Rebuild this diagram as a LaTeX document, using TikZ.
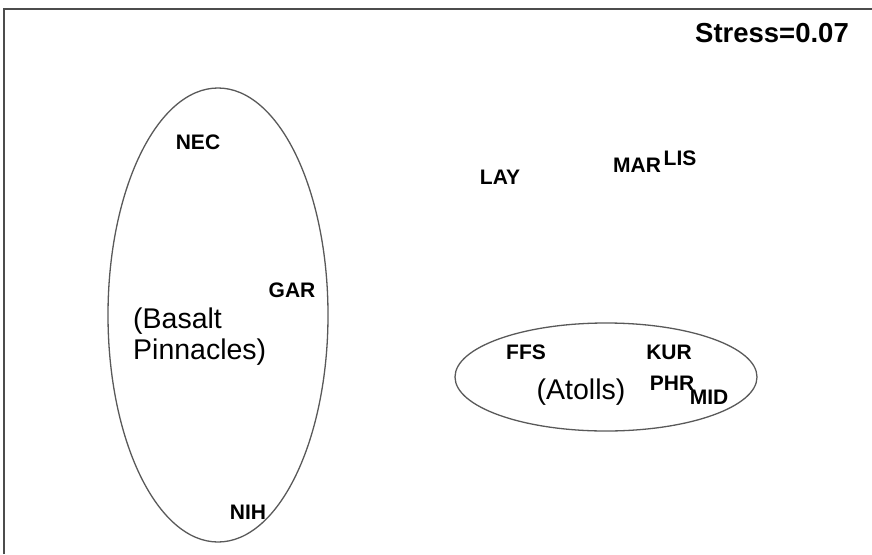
\documentclass[tikz,border=0pt]{standalone}
\usepackage{fontspec}
\setmainfont{Liberation Sans}
\usepackage{tikz}

\begin{document}
\begin{tikzpicture}[
	x=1pt, y=-1pt,
	site/.style = {inner sep=0pt, font=\fontsize{21}{24}\selectfont\bfseries},
	group/.style = {inner sep=0pt, align=left, font=\fontsize{28.5}{31}\selectfont},
	hull/.style = {draw=black!65, line width=1.3pt}
	]
	\useasboundingbox (0,0) rectangle (872,554);

	% frame
	\draw[black!70, line width=1.5pt] (4,554) -- (4,9) -- (872,9);
	\node[inner sep=0pt, font=\fontsize{27.5}{30}\selectfont\bfseries] (stress) at (772,33) {Stress=0.07};

	% basalt pinnacles
	\draw[hull] (218,315) ellipse (110 and 227);
	\node[site] (NEC) at (198,142) {NEC};
	\node[site] (GAR) at (292,290) {GAR};
	\node[site] (NIH) at (248,512) {NIH};
	\node[group, anchor=west] (basalt) at (133,337) {(Basalt\\Pinnacles)};

	% others
	\node[site] (LAY) at (500,177) {LAY};
	\node[site] (MAR) at (637,165) {MAR};
	\node[site] (LIS) at (680,158) {LIS};

	% atolls
	\draw[hull] (606,377) ellipse (151 and 54);
	\node[site] (FFS) at (526,352) {FFS};
	\node[site] (KUR) at (669,352) {KUR};
	\node[site] (PHR) at (672,383) {PHR};
	\node[site] (MID) at (709,397) {MID};
	\node[group] (atolls) at (581,392) {(Atolls)};
\end{tikzpicture}
\end{document}
